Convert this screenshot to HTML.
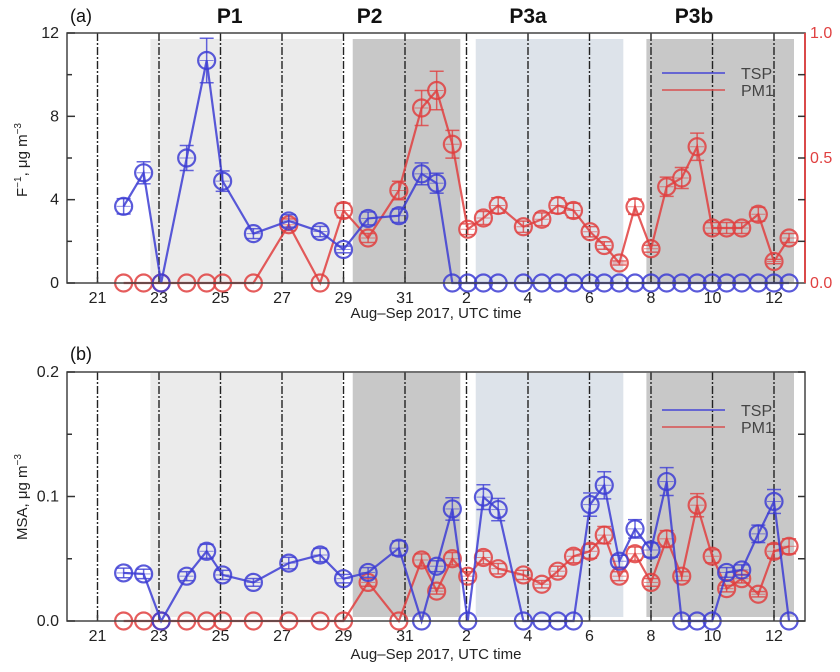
<!DOCTYPE html>
<html><head><meta charset="utf-8"><style>
body{margin:0;background:#fff}
svg{display:block;font-family:"Liberation Sans",sans-serif}
</style></head><body>
<svg id="chart" width="840" height="672" viewBox="0 0 840 672">
</svg>
<script>
const days = [21.85,22.5,23.07,23.9,24.55,25.07,26.07,27.22,28.24,29.0,29.8,30.8,31.54,32.03,32.54,33.04,33.55,34.03,34.85,35.45,35.97,36.48,37.02,37.48,37.97,38.48,39.0,39.51,40.0,40.5,40.99,41.46,41.95,42.49,43.0,43.49];
const fTSP = [3.68,5.29,0,6.0,10.68,4.89,2.37,2.98,2.47,1.61,3.1,3.23,5.24,4.79,0,0,0,0,0,0,0,0,0,0,0,0,0,0,0,0,0,0,0,0,0,0];
const fPM1 = [0,0,0,0,0,0,0,0.233,0,0.29,0.18,0.37,0.70,0.77,0.555,0.215,0.26,0.31,0.225,0.255,0.31,0.29,0.205,0.15,0.08,0.305,0.137,0.385,0.42,0.545,0.22,0.22,0.22,0.275,0.086,0.18];
const msaTSP = [0.0386,0.0378,0,0.036,0.056,0.037,0.031,0.0465,0.053,0.034,0.039,0.0585,0,0.044,0.09,0,0.0995,0.0895,0,0,0,0,0.0935,0.109,0.048,0.074,0.057,0.112,0,0,0,0.039,0.041,0.07,0.096,0];
const msaPM1 = [0,0,0,0,0,0,0,0,0,0,0.031,0,0.049,0.024,0.05,0.036,0.051,0.042,0.037,0.0295,0.04,0.052,0.056,0.069,0.036,0.054,0.031,0.066,0.036,0.093,0.052,0.026,0.034,0.0215,0.056,0.06];
const xTickLabels = ["21","23","25","27","29","31","2","4","6","8","10","12"];
const xTickDays = [21,23,25,27,29,31,33,35,37,39,41,43];
const shades = [[22.72,28.95,"#ebebeb","p1"],[29.3,32.8,"#c8c8c8","p2"],[33.3,38.1,"#dde3ea","p3a"],[38.85,43.65,"#c8c8c8","p3b"]];
const periodNames = ["P1","P2","P3a","P3b"];
const periodCenters = [25.3,29.85,35.0,40.4];

const NS="http://www.w3.org/2000/svg";
const svg=document.getElementById('chart');
function el(tag,attrs,parent,text){const e=document.createElementNS(NS,tag);for(const k in attrs)e.setAttribute(k,attrs[k]);if(text!==undefined)e.textContent=text;(parent||svg).appendChild(e);return e;}
const L=67,R=805;
function x(d){return 97.5+(d-21)*30.75;}

function panel(top,bot,name,shTop,shBot){
  const g=el('g',{});
  
  
  shades.forEach(s=>{
    const r=el('rect',{x:x(s[0]),y:shTop,width:x(s[1])-x(s[0]),height:shBot-shTop,fill:s[2]},g);
    
    
  });
  xTickDays.forEach((d,i)=>{
    const ln=el('line',{x1:x(d),x2:x(d),y1:top,y2:bot,stroke:'#222','stroke-width':1.4,'stroke-dasharray':'8,2,2,2'},g);
    
    
    el('line',{x1:x(d),x2:x(d),y1:bot,y2:bot-6,stroke:'#333','stroke-width':1.5},g);
    const t=el('text',{x:x(d),y:bot+20,'font-size':16,'text-anchor':'middle',fill:'#222'},g,xTickLabels[i]);
    
    
  });
  return g;
}
function series(g,vals,yf,color,errFrac,nm){
  const pts=days.map((d,i)=>x(d)+','+yf(vals[i])).join(' ');
  const pl=el('polyline',{points:pts,fill:'none',stroke:color,'stroke-width':2.2,'stroke-opacity':0.85},g);
  
  
  days.forEach((d,i)=>{
    const v=vals[i],cx=x(d),cy=yf(v);
    if(v>0){
      const e=v*errFrac,y1=yf(v+e),y2=yf(v-e);
      el('line',{x1:cx,x2:cx,y1:y1,y2:y2,stroke:color,'stroke-width':1.5,'stroke-opacity':0.8},g);
      el('line',{x1:cx-7,x2:cx+7,y1:y1,y2:y1,stroke:color,'stroke-width':1.5,'stroke-opacity':0.8},g);
      el('line',{x1:cx-7,x2:cx+7,y1:y2,y2:y2,stroke:color,'stroke-width':1.5,'stroke-opacity':0.8},g);
      el('line',{x1:cx-7,x2:cx+7,y1:cy,y2:cy,stroke:color,'stroke-width':1,'stroke-opacity':0.6},g);
    }
    const c=el('circle',{cx:cx,cy:cy,r:8.5,fill:'none',stroke:color,'stroke-width':2.2,'stroke-opacity':0.85},g);
    
    
  });
}
function frame(top,bot,rightColor){
  el('rect',{x:L,y:top,width:R-L,height:bot-top,fill:'none',stroke:'#444','stroke-width':1.5});
  if(rightColor) el('line',{x1:R,x2:R,y1:top,y2:bot,stroke:rightColor,'stroke-width':1.8});
}
function legend(y0){
  const g=el('g',{});
  
  
  el('line',{x1:662,x2:725,y1:y0,y2:y0,stroke:'#4646d6','stroke-width':1.5},g);
  el('text',{x:741,y:y0+6,'font-size':16,fill:'#444'},g,'TSP');
  el('line',{x1:662,x2:725,y1:y0+17,y2:y0+17,stroke:'#d85050','stroke-width':1.5},g);
  el('text',{x:741,y:y0+23,'font-size':16,fill:'#444'},g,'PM1');
}

// Panel A
const aTop=33,aBot=283;
const yA=v=>aBot-(v/12)*(aBot-aTop);
const yAr=v=>aBot-v*(aBot-aTop);
const gA=panel(aTop,aBot,'panel-a',39,aBot);
series(gA,fPM1,yAr,'#e04040',0.1,'pm1-f');
series(gA,fTSP,yA,'#3d3dd4',0.1,'tsp-f');
frame(aTop,aBot,'#e04040');
[0,2,4,6,8,10,12].forEach(v=>{
  el('line',{x1:L,x2:L+(v%4?5:8),y1:yA(v),y2:yA(v),stroke:'#333','stroke-width':1.5});
  if(v%4===0) el('text',{x:L-8,y:yA(v)+5,'font-size':16,'text-anchor':'end',fill:'#222'},svg,String(v));
});
[1/6,2/6,0.5,4/6,5/6].forEach(v=>el('line',{x1:R,x2:R-7,y1:yAr(v),y2:yAr(v),stroke:'#333','stroke-width':1.5}));
["0.0","0.5","1.0"].forEach((t,i)=>el('text',{x:R+5,y:yAr(i*0.5)+5,'font-size':16,fill:'#e04040'},svg,t));
el('text',{x:0,y:0,'font-size':15,'text-anchor':'middle',fill:'#222',transform:'translate(27,160) rotate(-90)'},svg).innerHTML='F<tspan dy="-6" font-size="10">−1</tspan><tspan dy="6">, μg m</tspan><tspan dy="-6" font-size="10">−3</tspan>';
el('text',{x:436,y:318,'font-size':15,'text-anchor':'middle',fill:'#222'},svg,'Aug–Sep 2017, UTC time');
el('text',{x:70,y:22,'font-size':18,fill:'#111'},svg,'(a)');
periodNames.forEach((p,i)=>{const t=el('text',{x:x(periodCenters[i]),y:23,'font-size':21,'font-weight':'bold','text-anchor':'middle',fill:'#111'},svg,p);});
legend(73);

// Panel B
const bTop=372,bBot=621;
const yB=v=>bBot-(v/0.2)*(bBot-bTop);
const gB=panel(bTop,bBot,'panel-b',373,617);
series(gB,msaPM1,yB,'#e04040',0.1,'pm1-msa');
series(gB,msaTSP,yB,'#3d3dd4',0.1,'tsp-msa');
frame(bTop,bBot,null);
[0,0.05,0.1,0.15,0.2].forEach((v,i)=>{
  el('line',{x1:L,x2:L+(i%2?5:8),y1:yB(v),y2:yB(v),stroke:'#333','stroke-width':1.5});
  el('line',{x1:R,x2:R-7,y1:yB(v),y2:yB(v),stroke:'#333','stroke-width':1.5});
});
["0.0","0.1","0.2"].forEach((t,i)=>el('text',{x:L-8,y:yB(i*0.1)+5,'font-size':16,'text-anchor':'end',fill:'#222'},svg,t));
el('text',{x:0,y:0,'font-size':15,'text-anchor':'middle',fill:'#222',transform:'translate(27,497) rotate(-90)'},svg).innerHTML='MSA, μg m<tspan dy="-6" font-size="10">−3</tspan>';
el('text',{x:436,y:659,'font-size':15,'text-anchor':'middle',fill:'#222'},svg,'Aug–Sep 2017, UTC time');
el('text',{x:70,y:360,'font-size':18,fill:'#111'},svg,'(b)');
legend(410);
</script>
</body></html>
